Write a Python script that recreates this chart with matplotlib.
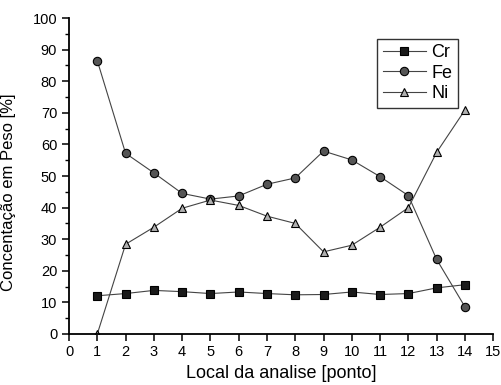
import matplotlib
matplotlib.use('Agg')
import matplotlib.pyplot as plt
from matplotlib.ticker import MultipleLocator

plt.rcParams['font.family'] = ['Liberation Sans', 'DejaVu Sans']

# data
ponto = [1, 2, 3, 4, 5, 6, 7, 8, 9, 10, 11, 12, 13, 14]
cr = [12.1, 12.8, 13.8, 13.4, 12.8, 13.3, 12.8, 12.4, 12.5, 13.3, 12.5, 12.8, 14.6, 15.6]
fe = [86.5, 57.2, 51.0, 44.5, 42.7, 43.7, 47.4, 49.4, 57.9, 55.1, 49.8, 43.8, 23.6, 8.6]
ni = [0.0, 28.4, 33.8, 39.8, 42.4, 40.7, 37.3, 35.0, 26.0, 28.1, 33.8, 40.0, 57.5, 70.9]
x_ticks = list(range(0, 16))

fig = plt.figure(figsize=(5.02, 3.85), dpi=100)
ax = fig.add_axes([0.1375, 0.1325, 0.845, 0.8205])

line_kw = dict(color='#444444', lw=0.8, markersize=6, markeredgecolor='black',
               markeredgewidth=0.8)
ax.plot(ponto, cr, marker='s', markerfacecolor='#1a1a1a', label='Cr', **line_kw)
ax.plot(ponto, fe, marker='o', markerfacecolor='#555555', label='Fe', **line_kw)
ax.plot(ponto, ni, marker='^', markerfacecolor='#b0b0b0', label='Ni', **line_kw)

ax.set_xlim(0, 15)
ax.set_ylim(0, 100)
ax.set_xticks(x_ticks)
ax.yaxis.set_major_locator(MultipleLocator(10))
ax.yaxis.set_minor_locator(MultipleLocator(5))
ax.spines['top'].set_visible(False)
ax.spines['right'].set_visible(False)
for s in ('left', 'bottom'):
    ax.spines[s].set_linewidth(1.3)
ax.tick_params(which='major', direction='out', length=5, width=1.1, labelsize=10.5)
ax.tick_params(which='minor', direction='out', length=3, width=1.0)
ax.tick_params(axis='x', pad=3)

ax.set_xlabel('Local da analise [ponto]', fontsize=13, labelpad=4)
ax.set_ylabel('Concentação em Peso [%]', fontsize=12)
ax.yaxis.set_label_coords(-0.125, 0.45)

leg = ax.legend(loc='upper left', bbox_to_anchor=(0.727, 0.935), fontsize=13,
                frameon=True, fancybox=False, edgecolor='black', handlelength=2.4,
                handletextpad=0.3, borderpad=0.3, labelspacing=0.2,
                borderaxespad=0)
leg.get_frame().set_linewidth(1.0)

fig.savefig('out.png', dpi=100)
